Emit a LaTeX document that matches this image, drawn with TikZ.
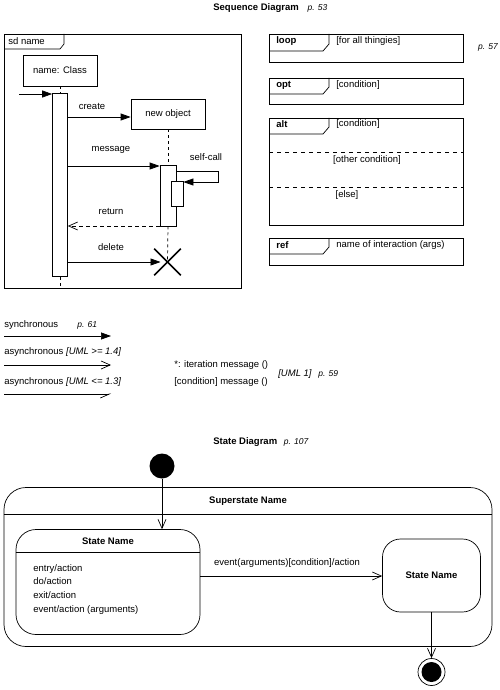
\documentclass[tikz,border=0pt]{standalone}
\usepackage{fontspec}
\setmainfont{Liberation Sans}
\usetikzlibrary{arrows.meta,calc}
\begin{document}
\begin{tikzpicture}[x=1pt,y=-1pt,line width=0.7pt,
  every node/.style={font=\fontsize{9.5}{11.5}\selectfont, inner sep=0pt},
  box/.style={draw, fill=white, inner sep=0pt},
  bar/.style={draw, fill=white, minimum width=15pt},
  sync/.style={-{Triangle[length=10pt,width=7pt]}},
  async/.style={-{Straight Barb[length=9pt,width=8pt]}},
  half/.style={-{Straight Barb[right,length=9pt,width=8pt]}},
  life/.style={dash pattern=on 3pt off 3pt},
  ttl/.style={font=\fontsize{9.5}{11}\selectfont\bfseries},
  pg/.style={font=\fontsize{8.5}{10}\selectfont\itshape},
  bld/.style={font=\fontsize{9.5}{11}\selectfont\bfseries},
  lbl/.style={anchor=west},
]
\useasboundingbox (0,0) rectangle (500,690);

% ---------- Sequence diagram title
\node[ttl, anchor=west] (t1) at (213,8) {Sequence Diagram};
\node[pg, anchor=base west] (p53) at ([xshift=8pt]t1.base east) {p. 53};

% ---------- sd frame
\draw (4,34) rectangle (241,288);
\draw (4,49) -- (60,49) -- (64,44) -- (64,34);
\node[lbl] (sd) at (8,41.5) {sd name};

\node[box, minimum width=74pt, minimum height=31pt] (cls) at (60,70.5) {name: Class};
\node[bar, minimum height=183pt] (b1) at (60,185) {};
\draw[life] (cls.south) -- (b1.north);
\coordinate (e1) at (60,288);
\draw[life] (b1.south) -- (e1);
\coordinate (f0) at (19,94);
\draw[sync] (f0) -- (f0 -| b1.west);

\node[box, minimum width=74pt, minimum height=30pt] (nob) at (168,114) {new object};
\draw[sync] (b1.east |- 0,117) -- (nob.west |- 0,117);
\node (create) at (92,106) {create};

\node[bar, minimum width=16pt, minimum height=61pt] (b2) at (168,195.5) {};
\node[bar, minimum width=12pt, minimum height=25pt] (b3) at (177,193.5) {};
\draw[life] (nob.south) -- (b2.north);
\node[minimum size=26pt] (xn) at (167.5,262) {};
\draw[life] (b2.south) -- (xn.center);
\draw[line width=1.6pt] (xn.north west) -- (xn.south east);
\draw[line width=1.6pt] (xn.south west) -- (xn.north east);

\draw[sync] (b1.east |- 0,166) -- (b2.west |- 0,166);
\node (msg) at (111,150) {message};
\draw[sync] (b2.east |- 0,171) -- (218,171) -- (218,182) -- (b3.east |- 0,182);
\node (self) at (206,157) {self-call};
\draw[async, dash pattern=on 4pt off 3pt] (b2.west |- 0,226) -- (b1.east |- 0,226);
\node (ret) at (111,211) {return};
\draw[sync, shorten >=7pt] (b1.east |- xn.center) -- (xn.center);
\node (del) at (111,247) {delete};

% ---------- combined fragments
\draw (269,34) rectangle (463,62);
\draw (269,51) -- (323,51) -- (329,44) -- (329,34);
\node[bld, lbl] (loop) at (276,41) {loop};
\node[lbl] (loopc) at (336,41) {[for all thingies]};
\node[pg] (p57) at (488,47) {p. 57};

\draw (269,78) rectangle (463,104);
\draw (269,94) -- (323,94) -- (329,87) -- (329,78);
\node[bld, lbl] (opt) at (276,85) {opt};
\node[lbl] (optc) at (336,85) {[condition]};

\draw (269,118) rectangle (463,225);
\draw (269,134) -- (323,134) -- (329,127) -- (329,118);
\node[bld, lbl] (alt) at (276,124) {alt};
\node[lbl] (altc) at (336,124) {[condition]};
\draw[dash pattern=on 4pt off 4pt] (269,152) -- (463,152);
\draw[dash pattern=on 4pt off 4pt] (269,187) -- (463,187);
\node (oth) at (367,160) {[other condition]};
\node (els) at (347,195) {[else]};

\draw (269,238) rectangle (463,265);
\draw (269,254) -- (323,254) -- (329,247) -- (329,238);
\node[bld, lbl] (ref) at (276,245) {ref};
\node[lbl] (refc) at (336,245) {name of interaction (args)};

% ---------- message kinds
\node[lbl] (sy) at (4,325) {synchronous};
\node[pg, lbl] (p61) at (77,325) {p. 61};
\coordinate (s0) at (4,336); \coordinate (s1e) at (111,336);
\draw[sync] (s0) -- (s1e);
\node[lbl] (as1) at (4,352) {asynchronous \textit{[UML >= 1.4]}};
\coordinate (a0) at (4,365); \coordinate (a1) at (111,365);
\draw[async] (a0) -- (a1);
\node[lbl] (as2) at (4,382) {asynchronous \textit{[UML <= 1.3]}};
\coordinate (h0) at (4,394); \coordinate (h1) at (111,394);
\draw[half] (h0) -- (h1);
\node[lbl] (it) at (174,365) {*: iteration message ()};
\node[lbl] (cd) at (174,382) {[condition] message ()};
\node[lbl, font=\fontsize{9.5}{11}\selectfont\itshape] (uml1) at (278,374) {[UML 1]};
\node[pg, lbl] (p59) at (318,374) {p. 59};

% ---------- State diagram
\node[ttl, anchor=west] (t2) at (213,442) {State Diagram};
\node[pg, anchor=base west] (p107) at ([xshift=6pt]t2.base east) {p. 107};

\node[circle, fill=black, minimum size=25pt] (init) at (162,466) {};
\node[draw, rounded corners=22pt, minimum width=488pt, minimum height=159pt] (sup) at (248,567) {};
\draw (sup.west |- 0,514) -- (sup.east |- 0,514);
\node[bld] (supn) at (248,501) {Superstate Name};

\node[draw, rounded corners=20pt, minimum width=184pt, minimum height=105pt] (st1) at (108,582) {};
\draw (st1.west |- 0,552) -- (st1.east |- 0,552);
\node[bld] (st1n) at (108,541) {State Name};
\node[anchor=north west, align=left, font=\fontsize{9.5}{13.6}\selectfont] (acts) at (33,564) {entry/action\\do/action\\exit/action\\event/action (arguments)};

\node[draw, rounded corners=18pt, minimum width=98pt, minimum height=73pt, bld] (st2) at (431.5,575.5) {State Name};
\draw[async] (st1.east |- 0,576) -- (st2.west |- 0,576);
\node (trl) at (287,563) {event(arguments)[condition]/action};

\draw[async] (init.south) -- (init.south |- st1.north);

\node[circle, draw, minimum size=27pt] (fin) at (431.5,672) {};
\node[circle, fill=black, minimum size=20pt] (fini) at (fin.center) {};
\draw[async] (st2.south) -- (fin.north);
\end{tikzpicture}
\end{document}
